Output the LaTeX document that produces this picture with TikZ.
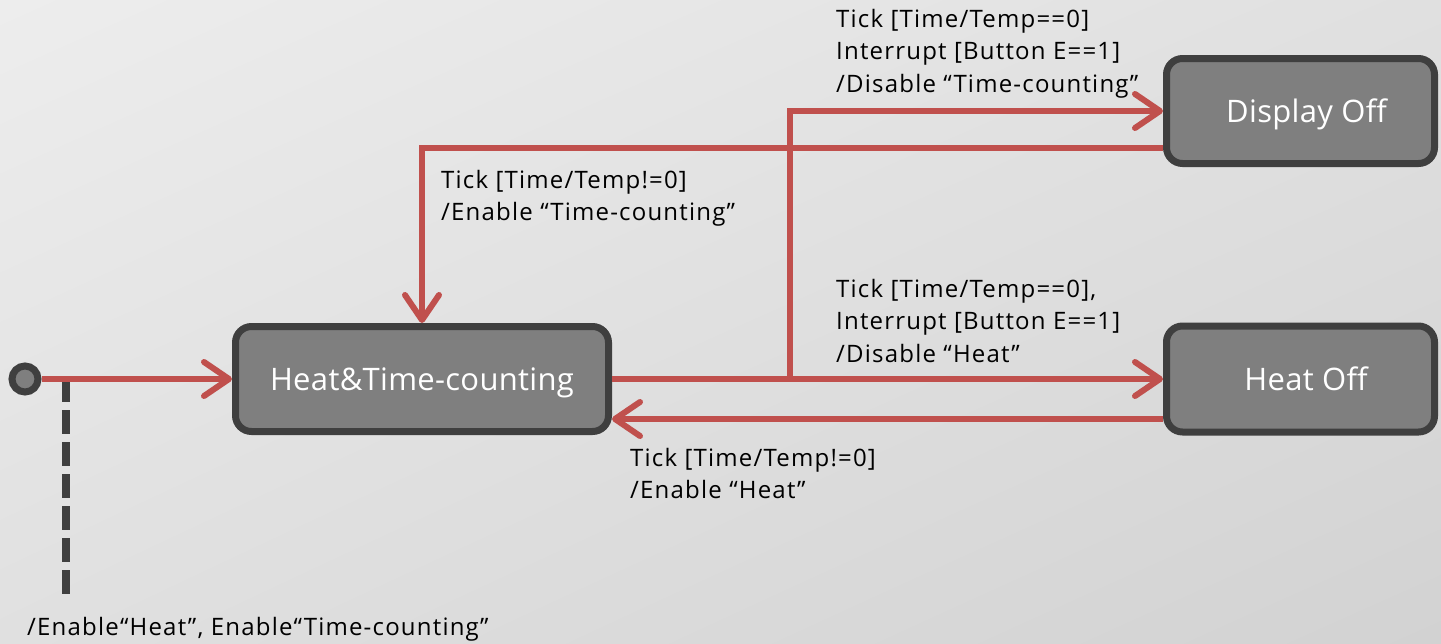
\documentclass[tikz,border=0pt]{standalone}
\usepackage{fontspec}
\setmainfont{Open Sans}
\newfontfamily\lblfont[LetterSpace=5]{Open Sans}
\newfontfamily\statefont[LetterSpace=1]{Open Sans}
\usetikzlibrary{arrows.meta,calc,shadings,shadows}
\definecolor{redline}{HTML}{C0504D}
\definecolor{nodeborder}{HTML}{3F3F3F}
\definecolor{nodefill}{HTML}{7F7F7F}
\definecolor{bgA}{HTML}{EDEDED}
\definecolor{bgB}{HTML}{E0E0E0}
\definecolor{bgC}{HTML}{D2D2D2}
\begin{document}
\begin{tikzpicture}[x=1pt,y=-1pt,
  state/.style={draw=nodeborder, line width=7pt, fill=nodefill, rounded corners=16pt,
    text=white, font=\statefont\fontsize{31}{36}\selectfont, inner sep=0pt,
    text height=23pt, text depth=0pt,
    drop shadow={opacity=0.25, shadow xshift=2pt, shadow yshift=-3pt}},
  trans/.style={draw=redline, line width=6pt,
    -{Straight Barb[length=25pt,width=34pt,line cap=round,line join=round]}},
  dashline/.style={draw=nodeborder, line width=8pt, dash pattern=on 24pt off 8pt},
  lbl/.style={font=\lblfont\fontsize{24}{32.5}\selectfont, align=left, inner sep=0pt,
    anchor=north west, text=black}
]
\shade[upper left=bgA, upper right=bgB, lower left=bgB, lower right=bgC]
  (0,0) rectangle (1441,643);
\useasboundingbox (0,0) rectangle (1441,643);

% states
\node[state, minimum width=373pt, minimum height=105pt] (htc) at (422,379) {Heat\&Time-counting};
\node[state, minimum width=268pt, minimum height=105pt] (doff) at (1300.5,111) {\hspace*{12pt}Display Off};
\node[state, minimum width=268pt, minimum height=106pt] (hoff) at (1300.5,379) {\hspace*{11pt}Heat Off};
\node[circle, draw=nodeborder, line width=7pt, fill=nodefill, minimum size=26pt, inner sep=0pt] (init) at (25,379) {};

% labels
\node[lbl] (l1) at (836,9) {Tick [Time/Temp==0]\\Interrupt [Button E==1]\\/Disable “Time-counting”};
\node[lbl] (l2) at (441,170) {Tick [Time/Temp!=0]\\/Enable “Time-counting”};
\node[lbl] (l3) at (836,279) {Tick [Time/Temp==0],\\Interrupt [Button E==1]\\/Disable “Heat”};
\node[lbl] (l4) at (630,448) {Tick [Time/Temp!=0]\\/Enable “Heat”};
\node[lbl] (l5) at (27,617) {/Enable“Heat”, Enable“Time-counting”};

% dashed note connector
\coordinate (dtop) at (66,378);
\coordinate (dbot) at (66,594);
\draw[dashline] (dtop) -- (dbot);

% transitions
\draw[trans] (init.east) -- (htc.west);
\draw[trans] (htc.east) -- (hoff.west);
\coordinate (br) at (790,379);
\draw[trans] (br) -- (br |- doff.west) -- (doff.west);
\coordinate (dret) at ($(doff.west)+(0,37)$);
\draw[trans] (dret) -| (htc.north);
\coordinate (hret) at ($(hoff.west)+(0,40)$);
\draw[trans] (hret) -- (hret -| htc.east);
\end{tikzpicture}
\end{document}
